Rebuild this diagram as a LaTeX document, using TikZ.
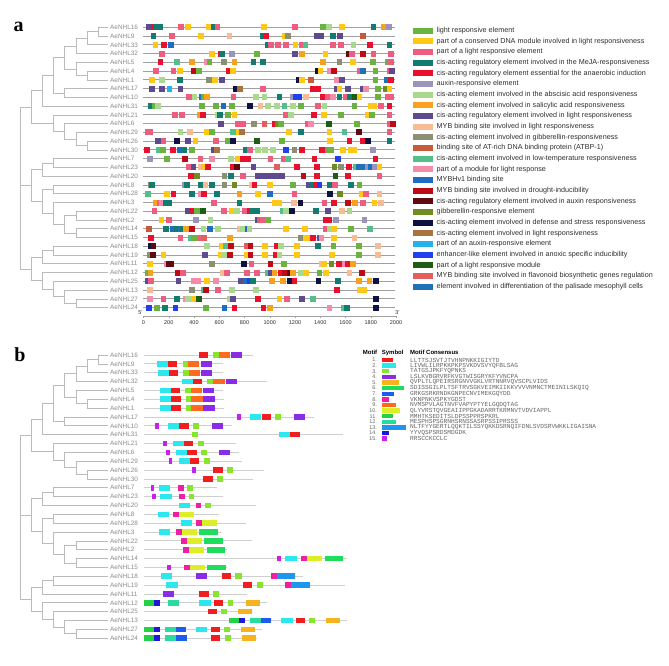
\documentclass[tikz,border=0pt]{standalone}
\usepackage{fontspec}
\setmainfont{Liberation Sans}
\newfontfamily\serifb{Liberation Serif}
\newfontfamily\monof{Liberation Mono}
% panel a element colours
\definecolor{cG}{HTML}{6BB340}\definecolor{cY}{HTML}{FFC815}\definecolor{cP}{HTML}{EE5C80}
\definecolor{cT}{HTML}{127C70}\definecolor{cR}{HTML}{E8102C}\definecolor{cL}{HTML}{9A93BC}
\definecolor{cg}{HTML}{A9D98C}\definecolor{cO}{HTML}{F7A11E}\definecolor{cU}{HTML}{5E4A8E}
\definecolor{ce}{HTML}{F7BC93}\definecolor{co}{HTML}{8C9072}\definecolor{cr}{HTML}{C85A3C}
\definecolor{cm}{HTML}{52BF8C}\definecolor{ck}{HTML}{F28CAA}\definecolor{cB}{HTML}{1E6CC4}
\definecolor{cD}{HTML}{BE0A14}\definecolor{cM}{HTML}{5E0A10}\definecolor{cv}{HTML}{6F8B22}
\definecolor{cN}{HTML}{0E1240}\definecolor{cw}{HTML}{A8733E}\definecolor{cs}{HTML}{22B2EE}
\definecolor{cb}{HTML}{2040EE}\definecolor{cd}{HTML}{1F5C16}\definecolor{cS}{HTML}{E35E5E}
\definecolor{ct}{HTML}{1F72B6}
% motif colours
\definecolor{mot1}{HTML}{F01E1E}\definecolor{mot2}{HTML}{2AE8EE}\definecolor{mot3}{HTML}{86E52C}
\definecolor{mot4}{HTML}{8A2BE8}\definecolor{mot5}{HTML}{F5B41E}\definecolor{mot6}{HTML}{1EDC5C}
\definecolor{mot7}{HTML}{1E5CF0}\definecolor{mot8}{HTML}{F01EA0}\definecolor{mot9}{HTML}{FF6A1E}
\definecolor{mot10}{HTML}{DCEE28}\definecolor{mot11}{HTML}{24D246}\definecolor{mot12}{HTML}{28DCA0}
\definecolor{mot13}{HTML}{1E96F0}\definecolor{mot14}{HTML}{1A1AD8}\definecolor{mot15}{HTML}{C81EF0}
\definecolor{treegray}{HTML}{BBBBBB}\definecolor{labgray}{HTML}{8C8C8C}
\definecolor{rowgray}{HTML}{A0A0A0}\definecolor{browgray}{HTML}{CFCFCF}
\definecolor{legtext}{HTML}{2E2E2E}\definecolor{seqtext}{HTML}{666666}

\tikzset{
  treeline/.style={draw=treegray, line width=0.7pt},
  lab/.style={font=\fontsize{6.4}{6.4}\selectfont, text=labgray, anchor=west, inner sep=0pt},
  arowline/.style={draw=rowgray, line width=0.9pt},
  browline/.style={draw=browgray, line width=0.8pt},
  legtxt/.style={font=\fontsize{7.2}{7.2}\selectfont, text=legtext, anchor=west, inner sep=0pt},
  seqtxt/.style={font=\monof\fontsize{6.2}{6.2}\selectfont, text=seqtext, anchor=west, inner sep=0pt},
  numtxt/.style={font=\fontsize{5.4}{5.4}\selectfont, text=seqtext, anchor=east, inner sep=0pt},
  headtxt/.style={font=\bfseries\fontsize{6}{6}\selectfont, text=black, anchor=west, inner sep=0pt},
  axtxt/.style={font=\fontsize{5.5}{5.5}\selectfont, text=legtext, inner sep=0pt},
  panellab/.style={font=\serifb\bfseries\fontsize{20}{20}\selectfont, anchor=base, inner sep=0pt}
}

\newcommand\mytree[3]{%
  \foreach \i in {0,...,32} {\coordinate (#3L\i) at (108,{#1+\i*#2});}
  \foreach \nn/\xx/\ii in {n1/98/0.5,n2/87/1.25,n3/76/2.125,n4/87/5.5,n5/76/4.75,n6/64/3.4375,
     n7/64/7.5,n8/53/5.46875,n9/42/7.234375,n10/87/13.5,n11/76/12.75,n12/64/11.875,n13/53/10.9375,
     n14/31/9.0859,n15/53/15.5,n16/42/16.25,n17/53/18.5,n18/76/21.5,n19/76/23.5,n20/64/22.5,
     n21/53/21.25,n22/42/19.875,n23/31/18.0625,n24/53/25.5,n25/42/26.25,n26/76/31.5,n27/64/30.75,
     n28/53/29.875,n29/42/28.9375,n30/31/27.59375,root/20/18.0625}
     {\coordinate (#3\nn) at (\xx,{#1+\ii*#2});}
  \foreach \p/\c in {n1/L0,n1/L1,n2/n1,n2/L2,n3/n2,n3/L3,n4/L5,n4/L6,n5/L4,n5/n4,n6/n3,n6/n5,
     n7/L7,n7/L8,n8/n6,n8/n7,n9/n8,n9/L9,n10/L13,n10/L14,n11/L12,n11/n10,n12/L11,n12/n11,
     n13/L10,n13/n12,n14/n9,n14/n13,n15/L15,n15/L16,n16/n15,n16/L17,n17/L18,n17/L19,
     n18/L21,n18/L22,n19/L23,n19/L24,n20/n18,n20/n19,n21/L20,n21/n20,n22/n17,n22/n21,
     n23/n16,n23/n22,n24/L25,n24/L26,n25/n24,n25/L27,n26/L31,n26/L32,n27/L30,n27/n26,
     n28/L29,n28/n27,n29/L28,n29/n28,n30/n25,n30/n29,root/n14,root/n23,root/n30}
     {\draw[treeline] (#3\p) |- (#3\c);}
  \foreach \nm [count=\i from 0] in {16,9,33,32,5,4,1,17,10,31,21,6,29,26,30,7,23,20,8,28,3,22,2,14,15,18,19,11,12,25,13,27,24}
     {\node[lab] (#3lab\nm) at (110,{#1+\i*#2}) {AeNHL\nm};}
}
% panel a row: #1 index, #2 list zx/colour
\newcommand\arow[2]{%
  \draw[arowline] (143,{27.3+#1*8.76}) -- (395,{27.3+#1*8.76});
  \foreach \zx/\cc in {#2} {\fill[fill=c\cc] ({130+\zx/3},{27.3+#1*8.76-3}) rectangle ++(5.5,6);}}
\newcommand\awide[4]{\fill[fill=c#3] ({130+#2/3},{27.3+#1*8.76-3}) rectangle ++(#4,6);}
% panel b row: #1 index, #2 line end, #3 list start/end/motif
\newcommand\brow[3]{%
  \draw[browline] (144,{355+#1*8.85}) -- (#2,{355+#1*8.85});
  \foreach \s/\e/\m in {#3} {\fill[fill=mot\m] (\s,{355+#1*8.85-2.8}) rectangle (\e,{355+#1*8.85+2.8});}}

\begin{document}
\begin{tikzpicture}[x=1pt,y=-1pt]
\useasboundingbox (0,0) rectangle (669,665);
\fill[white] (0,0) rectangle (669,665);

%================ PANEL A =================
\node[panellab] (pa) at (18.7,31.7) {a};
\mytree{27.3}{8.76}{a}

\arow{0}{48/U,62/R,72/T,82/T,145/P,166/Y,227/Y,242/T,254/P,393/Y,487/P,570/G,588/g,627/Y,722/T,752/O,768/L}
\arow{1}{62/T,118/P,205/Y,290/e,390/T,400/R,456/Y,466/o,600/T,622/U,690/r}
\awide{1}{552}{U}{10}
\arow{2}{68/Y,93/R,115/B,405/T,415/P,435/P,460/P,488/Y,507/P,518/m,600/P,625/P,662/g,712/R,770/T}
\arow{3}{88/P,237/Y,263/R,268/T,297/L,372/G,487/U,508/O,578/Y,648/M,658/P,690/D,722/P,775/P}
\arow{4}{83/R,132/m,178/O,222/k,230/G,273/o,305/O,362/T,390/T,570/O,620/o,660/Y,720/G,765/G,775/P}
\arow{5}{70/P,122/P,142/Y,182/D,198/G,287/R,300/Y,556/N,563/Y,590/k,603/D,680/P,690/t,728/G,770/P,778/U}
\arow{6}{57/Y,88/g,142/T,228/o,246/Y,268/U,497/N,508/Y,535/r,613/k,628/U,728/G,762/t,775/R}
\arow{7}{57/U,88/U,110/s,143/U,310/N,322/w,390/P,540/R,555/R,612/U,620/Y,645/U,690/U,700/k,735/G,760/v,770/Y}
\arow{8}{168/P,185/g,208/B,212/G,222/O,302/P,370/g,395/g,440/T,480/L,490/b,500/b,520/e,570/R,585/P,600/k,620/T,640/P,650/T,665/d,680/Y,735/G,765/P,775/P}
\arow{9}{55/T,65/G,75/g,207/G,250/G,272/B,298/G,352/N,383/e,405/g,432/g,455/m,480/g,505/G,555/P,575/g,665/G,715/Y,725/Y,745/P,770/R}
\arow{10}{127/P,147/P,200/O,210/R,255/g,262/T,285/G,305/Y,460/P,475/g,543/R,573/Y,625/G,705/Y,718/G,770/P}
\arow{11}{265/U,315/P,330/P,363/o,395/S,425/R,435/v,445/G,525/P,535/k,588/d,672/G,770/P,780/D}
\arow{12}{143/g,172/e,222/Y,237/G,300/m,318/Y,328/w,468/Y,505/T,590/Y,635/m,678/M,770/P}
\awide{12}{45}{P}{8}
\arow{13}{75/U,92/P,133/N,165/U,188/Y,250/P,285/G,300/N,373/d,448/G,592/Y,650/R,690/R,705/N,770/T}
\arow{14}{42/R,77/m,90/G,120/R,140/B,155/T,178/G,242/U,252/w,340/T,352/P,375/g,397/g,420/g,460/b,485/o,508/R,568/R,585/o,595/G,630/Y,655/Y,665/Y,720/L}
\arow{15}{52/L,102/G,157/D,203/P,238/k,295/g,315/Y,330/R,345/R,413/P,452/P,465/m,545/R,615/b,728/R}
\arow{16}{168/P,182/U,203/e,213/Y,225/R,300/R,312/M,362/U,432/S,492/R,552/R,605/v,625/o,648/R,668/m,678/t,690/t,705/L,715/B,725/L,740/Y}
\arow{17}{175/R,193/v,275/o,295/T,330/P,512/D,552/R,608/d,645/R,740/P}
\awide{17}{375}{U}{30}
\arow{18}{53/o,58/T,155/L,163/T,205/T,218/e,238/T,275/o,305/v,357/e,365/R,412/Y,480/G,528/U,538/T,550/R,560/b,590/T,607/P,655/T,680/G}
\arow{19}{45/m,103/Y,122/R,177/T,203/k,213/R,252/T,320/O,375/Y,412/B,485/P,592/N,622/v,686/Y,700/P,740/e}
\arow{20}{70/O,80/P,88/k,98/T,108/T,243/P,320/T,427/Y,440/Y,484/e,503/N,575/P,603/R,645/D,667/O,690/P,725/Y,745/e}
\arow{21}{65/P,165/U,180/R,193/G,210/d,274/P,297/Y,313/g,335/P,350/R,358/T,372/T,450/m,460/g,477/N,550/T,585/U,628/e,650/g}
\arow{22}{86/Y,108/P,190/L,233/g,375/U,382/S,390/P,405/G,580/R,590/R,610/L,695/L}
\arow{23}{48/r,100/T,120/B,133/T,143/t,150/T,160/O,178/D,212/g,232/B,255/g,320/e,330/g,345/B,350/g,460/Y,517/Y,580/P,590/g,605/Y,655/G,712/m}
\arow{24}{55/R,143/P,173/m,183/G,200/P,213/S,292/O,505/o,520/Y,530/Y,540/R,560/U,566/k,603/Y,665/e}
\arow{25}{55/N,62/M,222/g,266/Y,278/m,295/D,343/S,353/D,397/Y,432/R,445/g,493/Y,555/T,602/G,679/G,735/e}
\arow{26}{50/o,60/M,92/Y,216/U,265/Y,275/g,292/D,341/Y,353/D,396/Y,430/R,440/g,492/Y,598/Y,679/G,735/e}
\arow{27}{52/Y,102/k,238/o,333/N,356/P,413/D,453/G,567/e,575/Y,596/v,618/R,635/k,645/R,660/O}
\awide{27}{108}{M}{8}
\arow{28}{45/G,53/O,135/D,150/P,270/e,283/P,343/P,373/P,405/m,415/U,425/O,445/R,455/D,470/M,480/O,505/g,520/Y,560/G,580/Y,650/e,688/D}
\arow{29}{45/U,55/P,137/U,183/k,195/k,222/Y,250/k,323/U,340/B,350/b,360/T,417/O,450/O,470/N,485/R,557/N,615/T,678/O,710/O,730/N}
\arow{30}{52/e,178/o,212/m,220/D,255/P,298/g,370/g,612/R,680/Y,695/Y}
\arow{31}{52/k,92/P,132/T,158/k,165/g,183/Y,198/d,290/g,300/U,375/R,440/Y,463/P,508/U,540/m,730/N}
\arow{32}{48/b,72/G,97/T,128/b,220/G,275/B,305/R,392/R,412/O,590/k,632/m,642/T,730/N}

% axis
\draw[draw=rowgray, line width=0.7pt] (143.5,316) coordinate (ax0) -- (396,316) coordinate (ax1);
\foreach \v in {0,200,...,2000} {
  \draw[draw=rowgray, line width=0.5pt] ({143.5+\v*0.12625},316) -- ++(0,1.6);
  \node[axtxt] (tick\v) at ({143.5+\v*0.12625},322.5) {\v};
}
\node[axtxt] (five) at (140.5,312.5) {5'};
\node[axtxt] (three) at (397.5,312.5) {3'};

% legend a
\foreach \cc/\tt [count=\k from 0] in {
  G/light responsive element,
  Y/part of a conserved DNA module involved in light responsiveness,
  P/part of a light responsive element,
  T/cis-acting regulatory element involved in the MeJA-responsiveness,
  R/cis-acting regulatory element essential for the anaerobic induction,
  L/auxin-responsive element,
  g/cis-acting element involved in the abscisic acid responsiveness,
  O/cis-acting element involved in salicylic acid responsiveness,
  U/cis-acting regulatory element involved in light responsiveness,
  e/MYB binding site involved in light responsiveness,
  o/cis-acting element involved in gibberellin-responsiveness,
  r/binding site of AT-rich DNA binding protein (ATBP-1),
  m/cis-acting element involved in low-temperature responsiveness,
  k/part of a module for light response,
  B/MYBHv1 binding site,
  D/MYB binding site involved in drought-inducibility,
  M/cis-acting regulatory element involved in auxin responsiveness,
  v/gibberellin-responsive element,
  N/cis-acting element involved in defense and stress responsiveness,
  w/cis-acting element involved in light responsiveness,
  s/part of an auxin-responsive element,
  b/enhancer-like element involved in anoxic specific inducibility,
  d/part of a light responsive module,
  S/MYB binding site involved in flavonoid biosynthetic genes regulation,
  t/element involved in differentiation of the palisade mesophyll cells}
{
  \fill[fill=c\cc] (413,{30.7+\k*10.67-3}) rectangle (433,{30.7+\k*10.67+3});
  \node[legtxt] (lega\k) at (436.5,{30.7+\k*10.67}) {\tt};
}

%================ PANEL B =================
\node[panellab] (pb) at (20,361.7) {b};
\mytree{355}{8.85}{b}

\brow{0}{253.3}{199/208.3/1,213.3/219/3,219/230/9,231/242.3/4}
\brow{1}{222.7}{156.7/168.3/2,168.3/177.3/1,182.7/188.3/3,188.3/199.3/9,200.7/211.7/4}
\brow{2}{222.7}{157.7/169/2,169/178.3/1,183.3/189/3,189/200/9,201/212.3/4}
\brow{3}{266.7}{181.7/192.7/2,193.3/202.3/1,207.3/213.3/3,213.3/224.7/9,225.7/236.7/4}
\brow{4}{223}{160/171/2,171/180/1,185/190.7/3,190.7/202/9,203.3/214.3/4}
\brow{5}{224}{160/171/2,171/180.7/1,185.7/191/3,191/202.7/9,203.3/215/4}
\brow{6}{224}{160/171/2,171/180.7/1,185.7/191/3,191/202.7/9,203.3/215/4}
\brow{7}{314}{236.7/241/15,250/261/2,261.7/271/1,275.3/281/3,294.3/305.3/4}
\brow{8}{231.7}{154.7/158.7/15,167.7/179.3/2,179.3/188.7/1,193.3/199/3,212/223.3/4}
\brow{9}{343}{192/198/3,278.7/290.3/2,290.3/299.7/1}
\brow{10}{236}{163/167/15,173/184/2,184/193.3/1,198/203.7/3}
\brow{11}{239.3}{166/170/15,176/187.3/2,187.3/196.7/1,201/207/3,219.3/230.3/4}
\brow{12}{242.3}{168.7/172.3/15,178.7/190/2,190/199.3/1,204/209.7/3}
\brow{13}{264}{192/195.7/15,213.3/222.7/1,227.3/233/3}
\brow{14}{253.3}{203.3/212.7/1,217.3/223/3}
\brow{15}{217.3}{150.7/154.3/15,159/170/2,178/183.7/8,187.3/192.7/3}
\brow{16}{222.7}{152/156/15,160/171.7/2,179.3/185/8,188.7/194.3/3}
\brow{17}{256}{178.7/190/2,195.7/201.3/8,205/210.7/3}
\brow{18}{219.3}{157.7/169/2,173/179/8,179/193.7/10}
\brow{19}{245.7}{180.7/192/2,196/202/8,202/216.7/10}
\brow{20}{220.7}{159/170.3/2,176.3/182.3/8,182.3/197/10,199.3/218/6}
\brow{21}{252.3}{181/187/8,187/201.7/10,204/222.7/6}
\brow{22}{226.7}{183.3/189.3/8,189.3/204/10,206.7/225/6}
\brow{23}{346.7}{276.7/280.7/15,285/296.7/2,301/307/8,307/322/10,324.7/343/6}
\brow{24}{226.7}{166.7/170.7/15,184.3/190.3/8,190.3/205/10,207.3/226/6}
\brow{25}{303}{160.7/172/2,196/207.3/4,221.7/231/1,235.3/241.7/3,270.7/276.7/8,276.7/295.3/13}
\brow{26}{345}{166.3/177.7/2,243.3/252.3/1,256.7/262.7/3,285.3/291.3/8,291.3/310/13}
\brow{27}{246.7}{162.7/173.7/4,199.3/208.7/1,213.3/219/3}
\brow{28}{266.7}{144.3/154.3/11,154.3/160.3/14,168/179/12,199.3/210.7/2,214/223/1,227.7/233.3/3,246/260/5}
\brow{29}{253.3}{207.7/217/1,221.3/227.3/3,238.3/252.3/5}
\brow{30}{346.7}{229.3/239.3/11,239.3/245.3/14,250/261/12,261/271/7,281.3/292.7/2,296/305/1,309.3/315/3,326/340.3/5}
\brow{31}{261.7}{144.3/154.3/11,154.3/160.3/14,164.7/175.7/12,175.7/185.7/7,196/207.3/2,210.7/219.7/1,224/230/3,241/255.3/5}
\brow{32}{256.7}{144.3/154.3/11,154.3/160.3/14,165.3/176.3/12,176.3/186.7/7,211.3/220.3/1,225/231/3,242/256.3/5}

% legend b
\node[headtxt] (hmotif) at (362.7,352.7) {Motif};
\node[headtxt] (hsym) at (381.7,352.7) {Symbol};
\node[headtxt] (hcons) at (410,352.7) {Motif Consensus};
\foreach \w/\sq [count=\k from 1] in {
  11.7/LLTTSJSVTJTVHNPNKKIGIYTD,
  14/LIVWLILRPKKPKPSVKDVSVYQFBLSAG,
  7.3/TATGSJPKFYQPNKS,
  14/LSLKVBGRVRFKVGTWISGRYKFYVNCPA,
  17.7/QVPLTLQPEIRSRGNVVGKLVRTNNRVQVSCPLVIDS,
  22.7/SDISSGILPLTSFTRVSGKVEIMKIIKKVVVVNMNCTMEINILSKQIQ,
  12.7/GRKGSRKRNDKGNPECNVIMEKGQYDD,
  7.3/VKNPNKVSPKYGDST,
  14/NVMSPVLAGTNVFVAPYPTYELGQDQTAG,
  18.3/QLYVRSTQVGEAIIPPGKADARRTKRMNVTVDVIAPPL,
  11.7/MMHTKSEDITSLDPSSPPRSPKRL,
  14/MESPHSPSGRNHSRNSSASRPSSIPRSSS,
  24/NLTFYYGERTLQQKTILSSYQKKDSRNQIFDNLSVDSRVWKKLIGAISNA,
  7.3/YYVQSPSRDSMDGDK,
  5/RRSCCKCCLC}
{
  \node[numtxt] (num\k) at (377,{360+(\k-1)*5.62}) {\k.};
  \fill[fill=mot\k] (381.7,{360+(\k-1)*5.62-2.2}) rectangle ++(\w,4.4);
  \node[seqtxt] (seq\k) at (410,{360+(\k-1)*5.62}) {\sq};
}
\end{tikzpicture}
\end{document}
